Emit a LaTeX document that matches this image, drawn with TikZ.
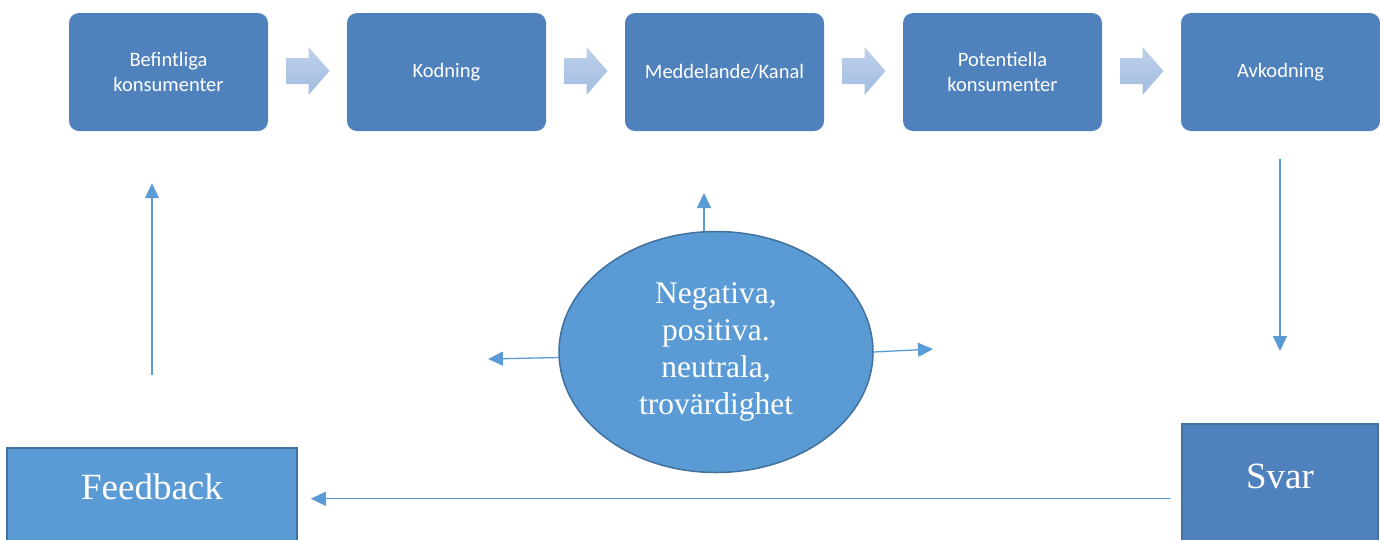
\documentclass[tikz,border=0pt]{standalone}
\usepackage{fontspec}
\setmainfont{Liberation Serif}
\newfontfamily\calibri{Carlito}
\usepackage{tikz}
\usetikzlibrary{shapes.geometric, arrows.meta, positioning}
\definecolor{boxblue}{HTML}{4F81BD}
\definecolor{lightblue}{HTML}{5B9BD5}
\definecolor{edgeblue}{HTML}{41719C}
\definecolor{chevtop}{HTML}{BDD0EA}
\definecolor{chevbot}{HTML}{A2BDE0}

\begin{document}
\begin{tikzpicture}[
    x=1pt, y=-1pt,
    stepbox/.style={rectangle, rounded corners=10pt, fill=boxblue, minimum width=199pt,
                    minimum height=118pt, text=white, align=center,
                    font=\calibri\fontsize{20.5}{24.5}\selectfont},
    bigbox/.style={rectangle, fill=#1, draw=edgeblue, line width=1.5pt, inner sep=0pt,
                   text=white, font=\fontsize{37}{42}\selectfont},
    bigbox/.default=lightblue,
    flow/.style={-{Triangle[length=15pt, width=14pt]}, draw=lightblue, line width=1.3pt}
]
\useasboundingbox (0,0) rectangle (1380,539);
\clip (0,0) rectangle (1380,539);

% Process chain
\node[stepbox] at (168.5,72) (befintliga) {Befintliga\\konsumenter};
\node[stepbox] at (446.5,72) (kodning) {Kodning};
\node[stepbox] at (724.5,72) (kanal) {Meddelande/Kanal};
\node[stepbox] at (1002.5,72) (potentiella) {Potentiella\\konsumenter};
\node[stepbox] at (1280.5,72) (avkodning) {Avkodning};

% Block arrows between the steps
\foreach \cx in {307.5, 585.5, 863.5, 1141.5}
    \shade[top color=chevtop, bottom color=chevbot]
        (\cx-21,58) -- (\cx+1,58) -- (\cx+1,47) -- (\cx+22,71) -- (\cx+1,95)
        -- (\cx+1,84) -- (\cx-21,84) -- cycle;

% Noise
\node[ellipse, fill=lightblue, draw=edgeblue, line width=1.5pt, minimum width=314pt,
      minimum height=241pt, inner sep=0pt, text=white, align=center,
      font=\fontsize{31.5}{36.7}\selectfont] at (716,352) (brus)
      {Negativa,\\positiva.\\neutrala,\\trovärdighet};

% Response and feedback
\node[bigbox, minimum width=290pt, text height=52pt, text depth=50pt, anchor=north]
      at (152,447) (feedback) {Feedback};
\node[bigbox=boxblue, minimum width=196pt, text height=65pt, text depth=60pt, anchor=north]
      at (1280,423) (svar) {Svar};

\coordinate (brusup) at (704,193);
\coordinate (brusleft) at (488,359);
\coordinate (brusright) at (933,349);

% Connectors
\draw[flow, shorten <=28pt, shorten >=72pt] (avkodning.south -| svar.north) -- (svar.north);
\draw[flow, shorten <=10pt, shorten >=13pt] (svar.west |- feedback.east) -- (feedback.east);
\draw[flow, shorten <=72pt, shorten >=52pt] (feedback.north) -- (befintliga.south -| feedback.north);
\draw[flow] (brus.north -| brusup) -- (brusup);
\draw[flow] (brus.182) -- (brusleft);
\draw[flow] (brus.0) -- (brusright);

\end{tikzpicture}
\end{document}
